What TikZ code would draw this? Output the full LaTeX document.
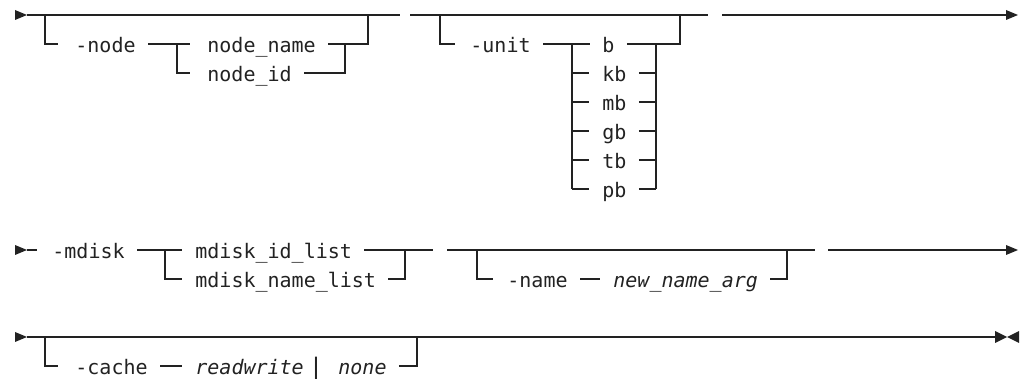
\documentclass[tikz,border=0pt]{standalone}
\usepackage{fontspec}
\newfontfamily\rr{DejaVu Sans Mono}
\usetikzlibrary{calc}
\definecolor{ink}{HTML}{222222}
\begin{document}
\begin{tikzpicture}[x=0.5pt,y=-0.5pt,
  track/.style={draw=ink,line width=0.65pt},
  lbl/.style={anchor=base west,inner sep=0pt,font=\rr\fontsize{10}{11}\selectfont,text=ink},
  ilbl/.style={lbl,font=\rr\itshape\fontsize{10}{11}\selectfont},
  tipfill/.style={fill=ink}]
\useasboundingbox (0,0) rectangle (1024,379);

% ---------------- Row 1 ----------------
\coordinate (r1) at (0,15);
\coordinate (r1b) at (0,44);
\coordinate (r1c) at (0,73);
\fill[tipfill] (15,10) -- (27,15) -- (15,20) -- cycle;
\coordinate (s1a) at (27,15); \coordinate (s1b) at (400,15);
\draw[track] (s1a) -- (s1b);
\coordinate (s1c) at (410,15); \coordinate (s1d) at (708,15);
\draw[track] (s1c) -- (s1d);
\coordinate (s1e) at (722,15); \coordinate (s1f) at (1008,15);
\draw[track] (s1e) -- (s1f);
\fill[tipfill] (1006,10) -- (1018,15) -- (1006,20) -- cycle;

% -node bracket
\coordinate (nL) at (45,15); \coordinate (nR) at (368,15);
\draw[track] (nL) -- (45,44) -- (58,44);
\node[lbl] (tnode) at (75,53) {-node};
\draw[track] ($(tnode.east |- r1b)+(12,0)$) -- (190,44);
\draw[track] (177,44) -- (177,73) -- (190,73);
\node[lbl] (tnn) at (207,53) {node\_name};
\node[lbl] (tni) at (207,82) {node\_id};
\draw[track] ($(tnn.east |- r1b)+(12,0)$) -- (345,44) -- (368,44) -- (nR);
\draw[track] ($(tni.east |- r1c)+(12,0)$) -- (345,73) -- (345,44);

% -unit bracket
\coordinate (uL) at (440,15); \coordinate (uR) at (680,15);
\draw[track] (uL) -- (440,44) -- (455,44);
\node[lbl] (tunit) at (470,53) {-unit};
\draw[track] ($(tunit.east |- r1b)+(12,0)$) -- (590,44);
\draw[track] (572,44) -- (572,189);
\draw[track] (656,44) -- (656,189);
\draw[track] (656,44) -- (680,44) -- (uR);
\foreach \u [count=\i from 0] in {b,kb,mb,gb,tb,pb} {
  \node[lbl] (u\i) at (602,53+29*\i) {\u};
  \coordinate (ur\i) at (656,44+29*\i);
  \draw[track] ($(u\i.east |- ur\i)+(12,0)$) -- (ur\i);
}
\foreach \i in {1,...,5} {
  \draw[track] (572,44+29*\i) -- (589,44+29*\i);
}

% ---------------- Row 2 ----------------
\coordinate (r2) at (0,250);
\coordinate (r2b) at (0,279);
\fill[tipfill] (15,245) -- (27,250) -- (15,255) -- cycle;
\draw[track] (27,250) -- (37,250);
\node[lbl] (tmdisk) at (52,259) {-mdisk};
\draw[track] ($(tmdisk.east |- r2)+(12,0)$) -- (182,250);
\draw[track] (165,250) -- (165,279) -- (182,279);
\node[lbl] (tidl) at (195,259) {mdisk\_id\_list};
\node[lbl] (tnml) at (195,288) {mdisk\_name\_list};
\draw[track] ($(tidl.east |- r2)+(12,0)$) -- (433,250);
\draw[track] ($(tnml.east |- r2b)+(12,0)$) -- (405,279) -- (405,250);

\draw[track] (447,250) -- (815,250);
\draw[track] (477,250) -- (477,279) -- (493,279);
\node[lbl] (tname) at (507,288) {-name};
\draw[track] ($(tname.east |- r2b)+(12,0)$) -- (600,279);
\node[ilbl] (tnna) at (613,288) {new\_name\_arg};
\draw[track] ($(tnna.east |- r2b)+(12,0)$) -- (787,279) -- (787,250);

\draw[track] (828,250) -- (1008,250);
\fill[tipfill] (1006,245) -- (1018,250) -- (1006,255) -- cycle;

% ---------------- Row 3 ----------------
\coordinate (r3) at (0,337);
\coordinate (r3b) at (0,366);
\fill[tipfill] (15,332) -- (27,337) -- (15,342) -- cycle;
\draw[track] (27,337) -- (997,337);
\fill[tipfill] (995,331) -- (1007,337) -- (995,343) -- cycle;
\fill[tipfill] (1019,331) -- (1007,337) -- (1019,343) -- cycle;
\draw[track] (45,337) -- (45,366) -- (58,366);
\node[lbl] (tcache) at (75,375) {-cache};
\draw[track] ($(tcache.east |- r3b)+(12,0)$) -- (182,366);
\node[ilbl] (trw) at (195,375) {readwrite};
\node[lbl,anchor=base,font=\rr\fontsize{12}{12}\selectfont] (tbar) at (316,376) {|};
\node[ilbl] (tnone) at (338,375) {none};
\draw[track] ($(tnone.east |- r3b)+(12,0)$) -- (417,366) -- (417,337);
\end{tikzpicture}
\end{document}
